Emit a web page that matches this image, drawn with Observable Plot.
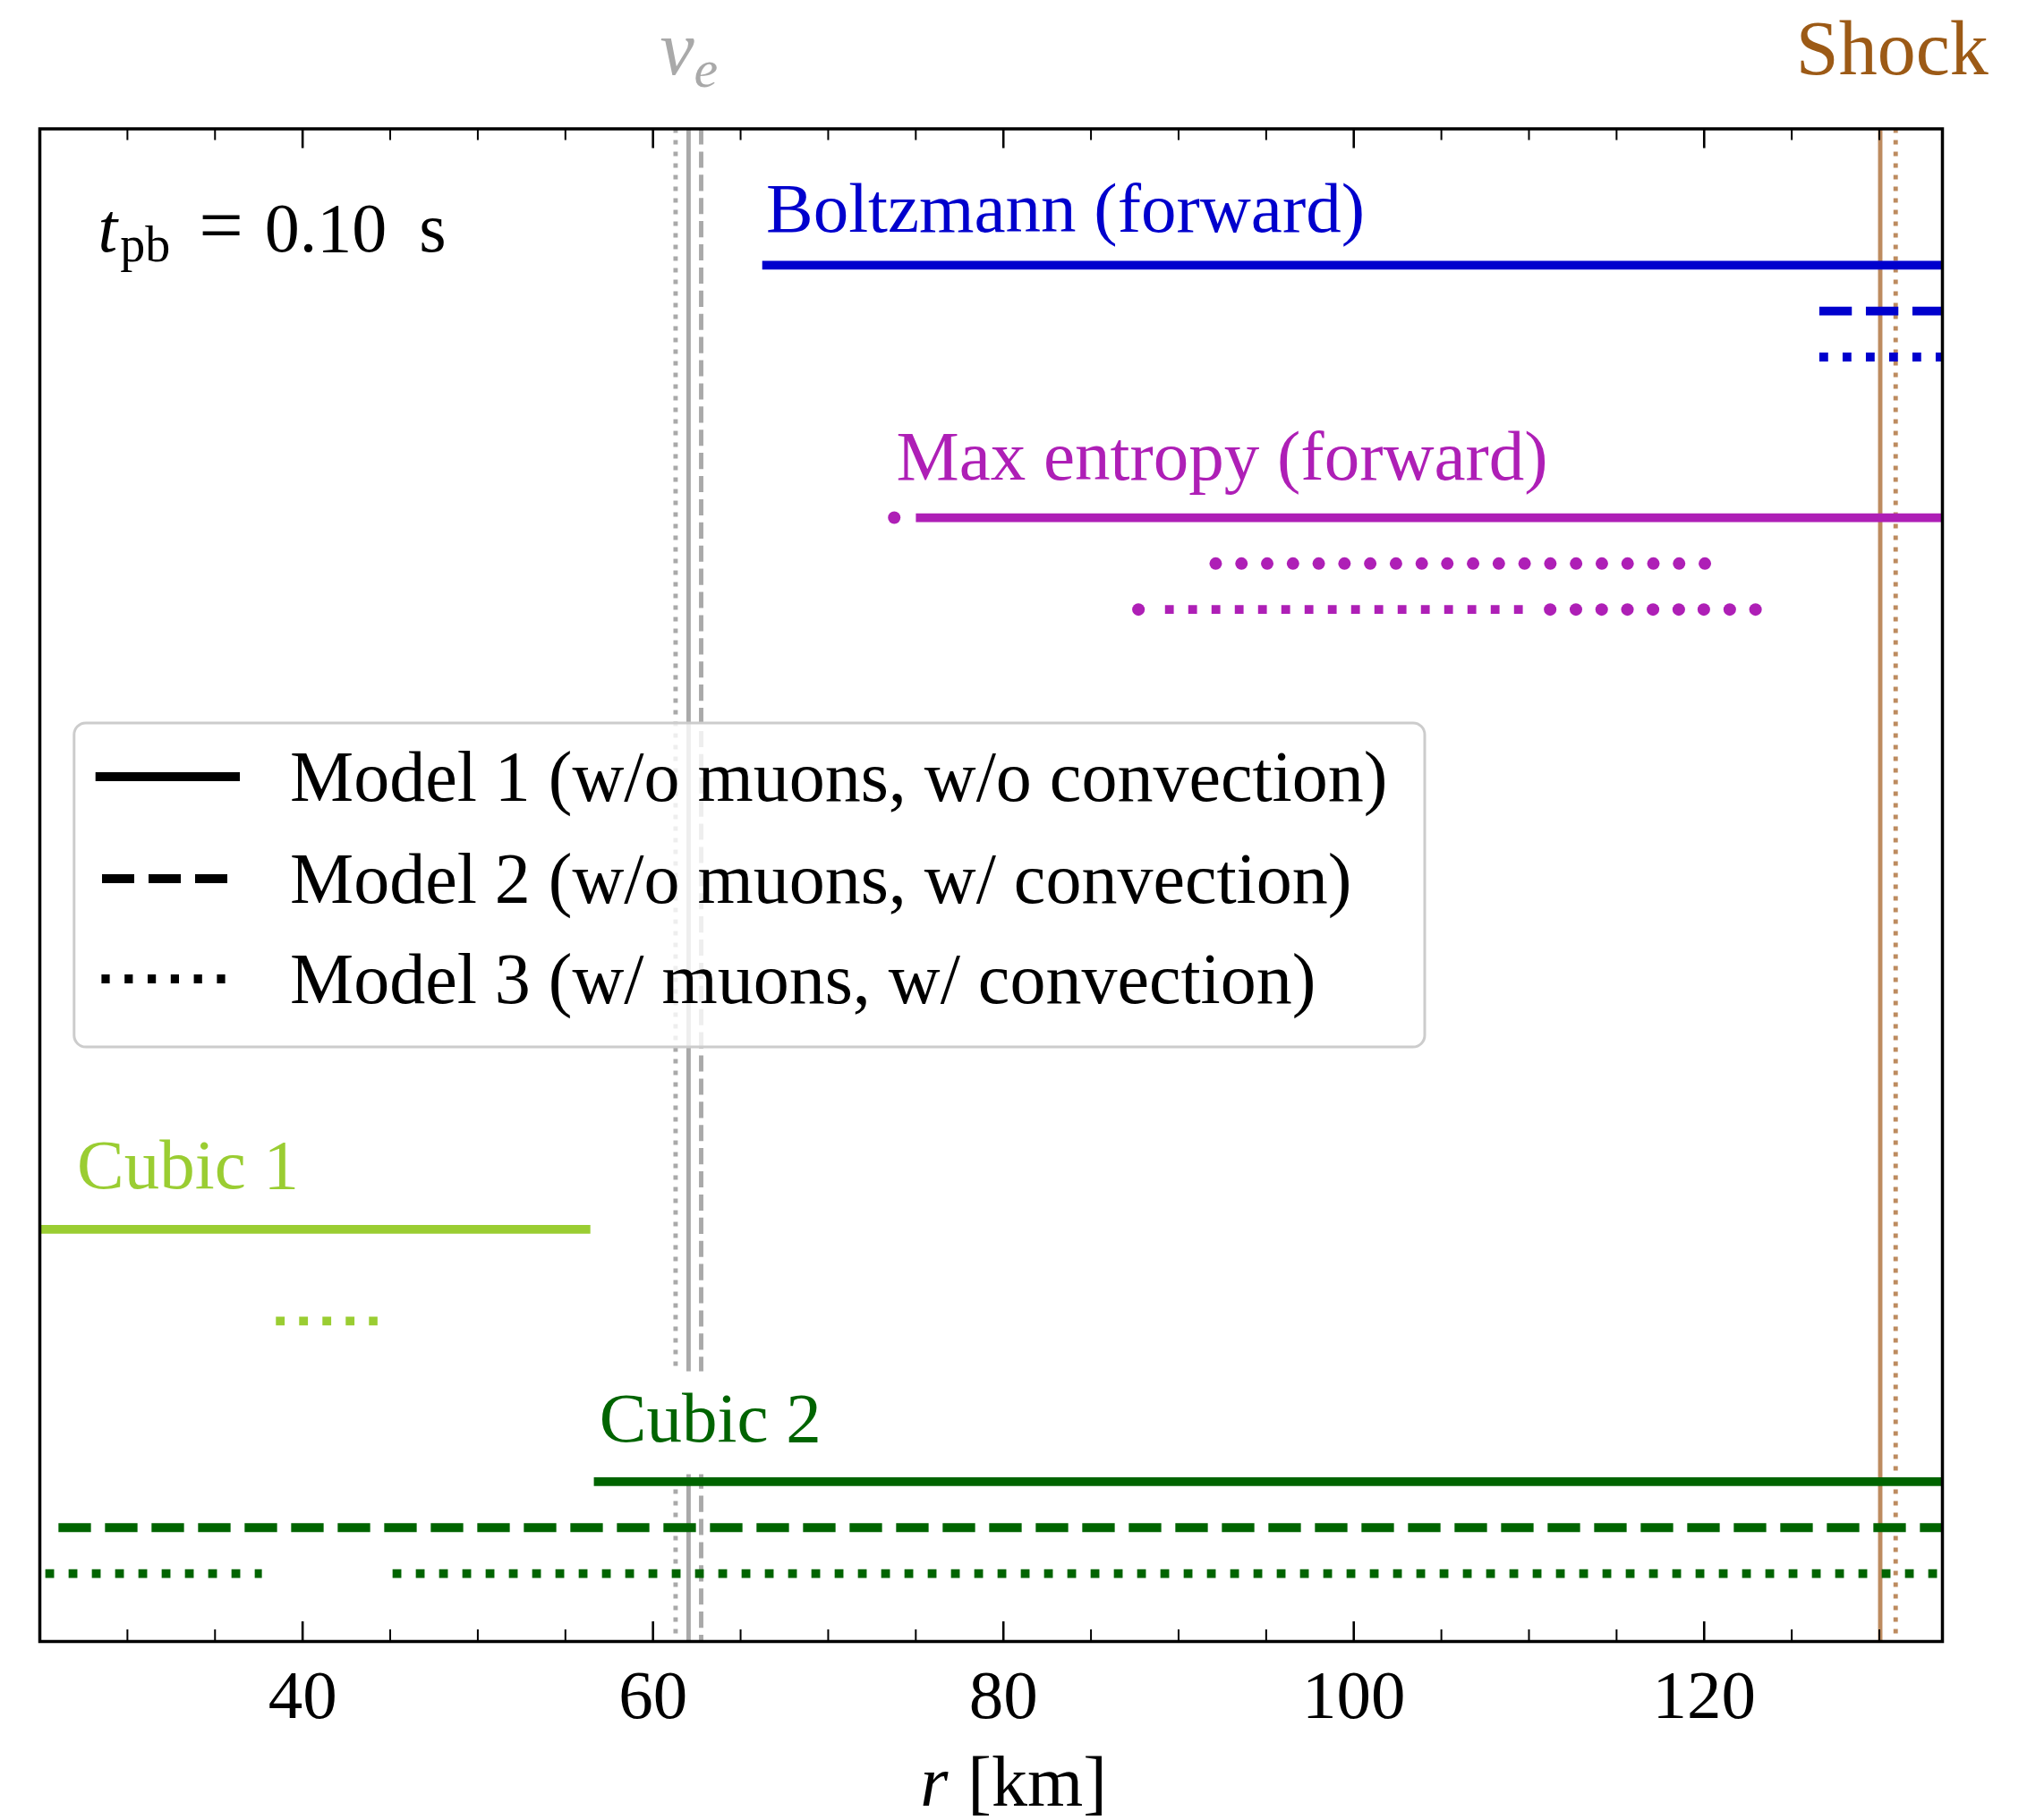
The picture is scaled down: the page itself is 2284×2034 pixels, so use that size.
<!DOCTYPE html>
<html><head><meta charset="utf-8">
<script src="https://cdn.jsdelivr.net/npm/d3@7"></script>
<script src="https://cdn.jsdelivr.net/npm/@observablehq/plot@0.6"></script>
<style>body{margin:0;background:#fff} svg{display:block}</style>
</head><body><div id="chart"></div>
<script>
// ---------------- data ----------------
const methods = ["Boltzmann (forward)", "Max entropy (forward)", "Cubic 1", "Cubic 2"];
const methodColors = ["#0000cd", "#ae1fb6", "#9acd32", "#006400"];
const methodRow = [29.5, 24, 8.5, 3];          // row of Model 1; Model k sits k-1 rows lower
const labelR = [66.45, 73.88, 27.12, 56.94];   // km, label start
const labelRow = [30.22, 24.82, 9.40, 3.885];  // label baseline row
const models = ["Model 1 (w/o muons, w/o convection)", "Model 2 (w/o muons, w/ convection)", "Model 3 (w/ muons, w/ convection)"];

// [method index, model, r start (km), r end (km)]
const segments = [
  [0, 1, 66.26, 133.6],
  [0, 2, 126.6, 133.6],
  [0, 3, 126.6, 133.6],
  [1, 1, 75.03, 133.6],
  [1, 3, 89.25, 109.75],
  [2, 1, 25.0, 56.45],
  [2, 3, 38.5, 44.3],
  [3, 1, 56.65, 133.6],
  [3, 2, 26.09, 133.6],
  [3, 3, 25.34, 37.70],
  [3, 3, 45.16, 133.6]
];
// isolated grid points [method index, model, r (km)]
const isolated = [
  [1, 1, 73.77],
  [1, 2, 92.12], [1, 2, 93.59], [1, 2, 95.06], [1, 2, 96.53], [1, 2, 98.00],
  [1, 2, 99.47], [1, 2, 100.94], [1, 2, 102.41], [1, 2, 103.88], [1, 2, 105.34],
  [1, 2, 106.81], [1, 2, 108.28], [1, 2, 109.75], [1, 2, 111.22], [1, 2, 112.69],
  [1, 2, 114.16], [1, 2, 115.63], [1, 2, 117.10], [1, 2, 118.57], [1, 2, 120.04],
  [1, 3, 87.71],
  [1, 3, 111.21], [1, 3, 112.68], [1, 3, 114.15], [1, 3, 115.62], [1, 3, 117.08],
  [1, 3, 118.55], [1, 3, 119.98], [1, 3, 121.46], [1, 3, 122.93]
];
const nuRadii = [62.03, 62.75, 61.29];      // Model 1, 2, 3 (km)
const shockRadii = [130.05, null, 130.93];  // Model 1, 2, 3 (km)
const nuLabelR = 62.05, shockLabelR = 130.73;
const majorTicks = [40, 60, 80, 100, 120];
const minorTicks = [30, 35, 45, 50, 55, 65, 70, 75, 85, 90, 95, 105, 110, 115, 125, 130];
const timeLabel = "0.10";

// ---------------- layout / style ----------------
const W = 2284, H = 2034;
const mL = 44, mR = 114, mT = 143.5, mB = 200;
const frameH = H - mT - mB;
const font = "'Liberation Serif', 'Times New Roman', serif";
const thickDash = [null, "36.3,15.7", "9.8,16.2"];
const thinDash = [null, "18.1,7.8", "4.9,8.1"];
const nuColor = "#a9a9a9", shockLine = "#bd8b5f", shockText = "#9c5a16";

const segData = segments.map(([m, k, a, b]) => ({color: methodColors[m], model: k, x1: a, x2: b, y: methodRow[m] - (k - 1)}));
const dotData = isolated.map(([m, k, r]) => ({color: methodColors[m], x: r, y: methodRow[m] - (k - 1)}));
const labelData = methods.map((name, i) => ({name, color: methodColors[i], x: labelR[i], y: labelRow[i]}));

const marks = [];
[0, 1, 2].forEach(k => {
  marks.push(Plot.ruleX([nuRadii[k]], {x: d => d, stroke: nuColor, strokeWidth: 4.9, strokeDasharray: thinDash[k]}));
  if (shockRadii[k] != null) marks.push(Plot.ruleX([shockRadii[k]], {x: d => d, stroke: shockLine, strokeWidth: 4.9, strokeDasharray: thinDash[k]}));
});
marks.push(Plot.text(labelData, {x: "x", y: "y", text: "name", fill: "color", fontSize: 79, textAnchor: "start", lineAnchor: "bottom", fontFamily: font}));
[1, 2, 3].forEach(k => {
  marks.push(Plot.ruleY(segData.filter(d => d.model === k), {x1: "x1", x2: "x2", y: "y", stroke: "color", strokeWidth: 9.8, strokeDasharray: thickDash[k - 1]}));
});
marks.push(Plot.dot(dotData, {x: "x", y: "y", r: 7, fill: "color", stroke: null}));
// ticks (inward, bottom and top)
marks.push(Plot.tickX(majorTicks, {x: d => d, insetTop: frameH - 22, stroke: "black", strokeWidth: 2.6}));
marks.push(Plot.tickX(majorTicks, {x: d => d, insetBottom: frameH - 22, stroke: "black", strokeWidth: 2.6}));
marks.push(Plot.tickX(minorTicks, {x: d => d, insetTop: frameH - 13, stroke: "black", strokeWidth: 2}));
marks.push(Plot.tickX(minorTicks, {x: d => d, insetBottom: frameH - 13, stroke: "black", strokeWidth: 2}));
marks.push(Plot.text(majorTicks, {x: d => d, text: d => String(d), frameAnchor: "bottom", dy: 85, lineAnchor: "bottom", fontSize: 77, fontFamily: font, fill: "black"}));
marks.push(Plot.frame({stroke: "black", strokeWidth: 3.5}));
// top labels
marks.push(Plot.text(["NU_E"], {x: () => nuLabelR, frameAnchor: "top", dy: -61.5, lineAnchor: "bottom", textAnchor: "middle", fontSize: 86, fontFamily: font, fill: nuColor}));
marks.push(Plot.text(["Shock"], {x: () => shockLabelR, frameAnchor: "top", dy: -61.5, lineAnchor: "bottom", textAnchor: "middle", fontSize: 86, fontFamily: font, fill: shockText}));
// axis label and time annotation
marks.push(Plot.text(["R_KM"], {frameAnchor: "bottom", dx: 25, dy: 183, lineAnchor: "bottom", textAnchor: "middle", fontSize: 80, fontFamily: font, fill: "black"}));
marks.push(Plot.text(["T_PB"], {frameAnchor: "top-left", dx: 65, dy: 136.5, lineAnchor: "bottom", textAnchor: "start", fontSize: 78, fontFamily: font, fill: "black"}));

const chart = Plot.plot({
  width: W, height: H,
  marginLeft: mL, marginRight: mR, marginTop: mT, marginBottom: mB,
  x: {domain: [25, 133.6], axis: null},
  y: {domain: [-0.48, 32.47], axis: null},
  color: {type: "identity"},
  style: {fontFamily: font, background: "white", color: "black"},
  marks
});
document.getElementById("chart").appendChild(chart);

const svg = d3.select(chart);
function findText(s) { return svg.selectAll("text").filter(function () { return this.textContent === s; }); }

// white boxes behind method labels (cover the vertical reference lines)
methods.forEach(name => {
  findText(name).each(function () {
    const b = this.getBBox();
    d3.select(this.parentNode).insert("rect", () => this)
      .attr("transform", this.getAttribute("transform"))
      .attr("x", b.x - 20).attr("y", b.y - 8).attr("width", b.width + 40).attr("height", b.height + 28)
      .attr("fill", "white");
  });
});

// rich text
findText("NU_E").each(function () {
  const t = d3.select(this); t.text("");
  t.append("tspan").attr("font-style", "italic").text("ν");
  t.append("tspan").attr("font-style", "italic").attr("font-size", 60).attr("dy", 14).text("e");
});
findText("R_KM").each(function () {
  const t = d3.select(this); t.text("");
  t.append("tspan").attr("font-style", "italic").text("r");
  t.append("tspan").attr("dx", 22).text("[km]");
});
findText("T_PB").each(function () {
  const t = d3.select(this); t.text("");
  t.append("tspan").attr("font-style", "italic").text("t");
  t.append("tspan").attr("font-size", 56).attr("dx", 3).attr("dy", 11).text("pb");
  t.append("tspan").attr("dx", 32).attr("dy", -11).attr("font-size", 88).text("=");
  t.append("tspan").attr("dx", 24).text(timeLabel);
  t.append("tspan").attr("dx", 36).text("s");
});

// legend
const lg = svg.append("g").attr("font-family", font).attr("text-anchor", "start");
lg.append("rect").attr("x", 82.8).attr("y", 808).attr("width", 1592 - 82.8).attr("height", 1170 - 808)
  .attr("rx", 13).attr("fill", "white").attr("fill-opacity", 0.8).attr("stroke", "#cccccc").attr("stroke-width", 3);
const sampleY = [868, 982, 1094];
const sampleX = [[106.7, 268], [114, 254], [113.4, 252]];
models.forEach((m, i) => {
  const l = lg.append("line").attr("x1", sampleX[i][0]).attr("x2", sampleX[i][1]).attr("y1", sampleY[i]).attr("y2", sampleY[i])
    .attr("stroke", "black").attr("stroke-width", 9.8);
  if (thickDash[i]) l.attr("stroke-dasharray", i === 1 ? "36,16" : "9.2,16.6");
  lg.append("text").attr("x", 324).attr("y", sampleY[i] + 27).attr("text-anchor", "start")
    .attr("font-size", 80).attr("fill", "black").text(m);
});
</script>
</body></html>
